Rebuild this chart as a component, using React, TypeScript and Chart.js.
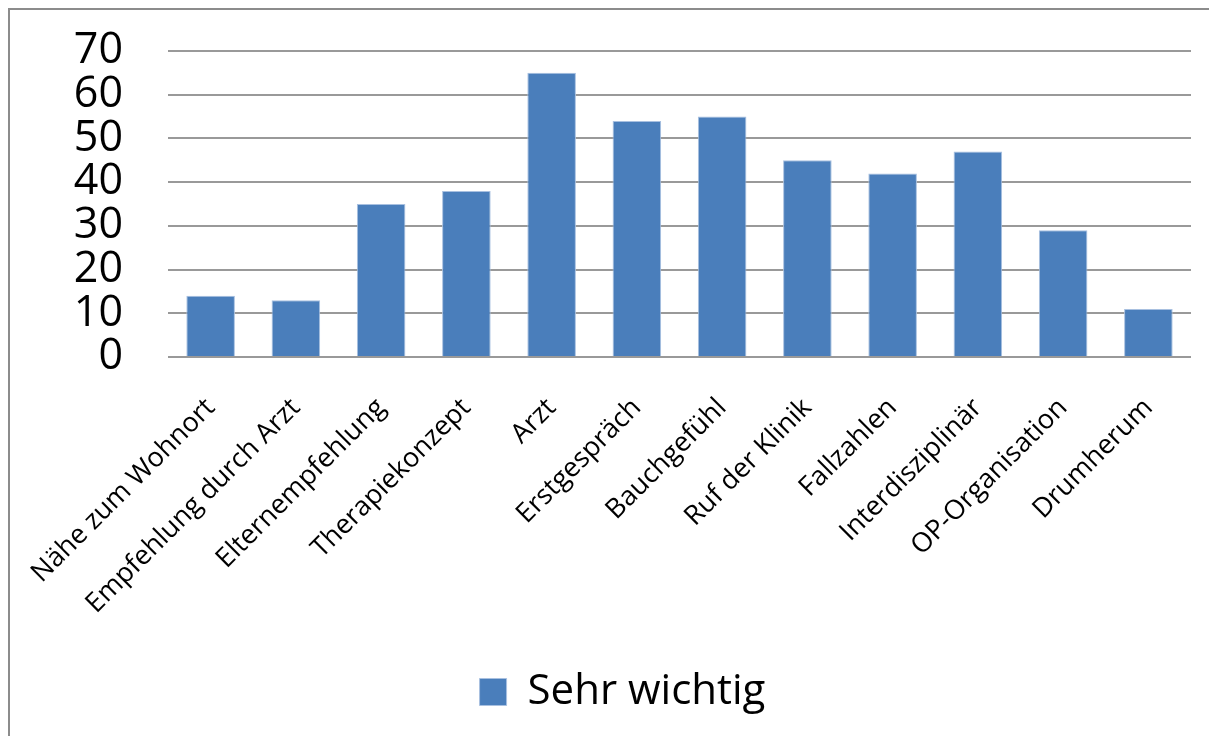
import { useEffect, useRef } from "react";
import { Chart, registerables } from "chart.js";

Chart.register(...registerables);

// Categories along the x axis
const categories = [
  "Nähe zum Wohnort",
  "Empfehlung durch Arzt",
  "Elternempfehlung",
  "Therapiekonzept",
  "Arzt",
  "Erstgespräch",
  "Bauchgefühl",
  "Ruf der Klinik",
  "Fallzahlen",
  "Interdisziplinär",
  "OP-Organisation",
  "Drumherum",
];

// Single series
const seriesName = "Sehr wichtig";
const seriesValues = [14, 13, 35, 38, 65, 54, 55, 45, 42, 47, 29, 11];

// Value axis ticks
const yTicks = [0, 10, 20, 30, 40, 50, 60, 70];

const FONT = "'Open Sans', 'DejaVu Sans', sans-serif";

export default function App() {
  const canvasRef = useRef<HTMLCanvasElement | null>(null);

  useEffect(() => {
    const canvas = canvasRef.current;
    if (!canvas) return;
    const chart = new Chart(canvas, {
      type: "bar",
      data: {
        labels: categories,
        datasets: [
          {
            label: seriesName,
            data: seriesValues,
            backgroundColor: "#4a7ebb",
            borderColor: "#a8c0e0",
            borderWidth: 1,
            barPercentage: 0.57,
            categoryPercentage: 1,
          },
        ],
      },
      options: {
        responsive: false,
        animation: false,
        layout: { padding: { top: 41, right: 0, left: 18, bottom: 13 } },
        plugins: {
          tooltip: { enabled: false },
          legend: {
            position: "bottom",
            labels: {
              boxWidth: 27,
              boxHeight: 27,
              color: "#000",
              padding: 10,
              font: { family: FONT, size: 42 },
            },
          },
        },
        scales: {
          x: {
            grid: { display: false, drawTicks: false },
            border: { display: false },
            ticks: {
              color: "#000",
              font: { family: FONT, size: 27 },
              maxRotation: 45,
              minRotation: 45,
              padding: 35,
              autoSkip: false,
            },
            afterFit: (scale: any) => {
              scale.height = 304;
              scale.paddingLeft = 0;
              scale.paddingRight = 26;
            },
          },
          y: {
            min: 0,
            max: 70,
            afterBuildTicks: (scale: any) => {
              scale.ticks = yTicks.map((v) => ({ value: v }));
            },
            grid: { color: "#999999", lineWidth: 2, drawTicks: false },
            border: { display: false },
            ticks: {
              color: "#000",
              font: { family: FONT, size: 43 },
              padding: 45,
              autoSkip: false,
            },
            afterFit: (scale: any) => {
              scale.width = 140;
              scale.paddingTop = 25;
              scale.paddingBottom = 25;
            },
          },
        },
      },
    });
    return () => chart.destroy();
  }, []);

  return (
    <div
      style={{
        width: 1207,
        height: 726,
        borderLeft: "2px solid #8c8c8c",
        borderTop: "2px solid #8c8c8c",
        background: "#fff",
      }}
    >
      <canvas ref={canvasRef} width={1207} height={726} style={{ display: "block" }} />
    </div>
  );
}
